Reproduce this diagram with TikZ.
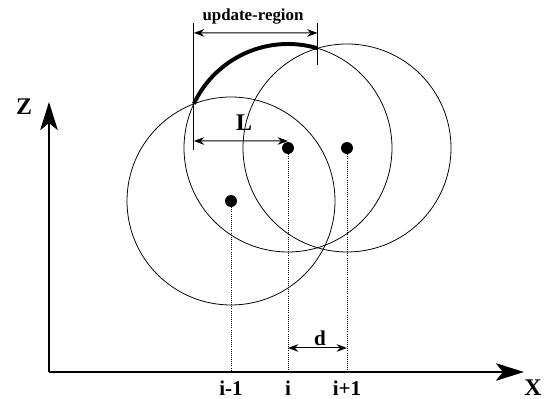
\documentclass[tikz,border=0pt]{standalone}
\usepackage{fontspec}
\setmainfont{Liberation Serif}
\usetikzlibrary{arrows.meta, calc}
\tikzset{
  ring/.style={line width=0.55pt, color=black},
  ctr/.style={circle, fill=black, inner sep=0pt, minimum size=8.5pt},
  axis/.style={-{Stealth[length=20pt, width=12.5pt, inset=5pt]}, line width=0.9pt},
  dim/.style={{Stealth[length=2.6mm, width=1.9mm]}-{Stealth[length=2.6mm, width=1.9mm]}, line width=0.7pt},
  drop/.style={densely dotted, line width=0.5pt},
  tick/.style={line width=0.6pt},
  lbl/.style={font=\bfseries\fontsize{15}{17}\selectfont, inner sep=0pt},
  biglbl/.style={font=\bfseries\fontsize{17}{19}\selectfont, inner sep=0pt},
}

\begin{document}
\begin{tikzpicture}[x=0.025cm, y=0.025cm]
  \useasboundingbox (0,0) rectangle (549,399);
  % axes
  \coordinate (org) at (49,27);
  \coordinate (ztip) at (49,297);
  \coordinate (xtip) at (524,27);
  \draw[axis] (org) -- (ztip);
  \draw[axis] (org) -- (xtip);
  \node[biglbl] (zlab) at (24,292) {Z};
  \node[biglbl] (xlab) at (533,11) {X};
  % centres and circles
  \node[ctr] (qa) at (231,198) {};
  \node[ctr] (qb) at (288,251) {};
  \node[ctr] (qc) at (347,251) {};
  \draw[ring] (qa.center) circle[radius=104];
  \draw[ring] (qb.center) circle[radius=104];
  \draw[ring] (qc.center) circle[radius=104];
  % drops to the x axis
  \coordinate (fa) at (231,27);
  \coordinate (fb) at (288,27);
  \coordinate (fc) at (347,27);
  \draw[drop] (qa) -- (fa);
  \draw[drop] (qb) -- (fb);
  \draw[drop] (qc) -- (fc);
  \node[lbl] (la) at (231,11) {i-1};
  \node[lbl] (lb) at (288,11) {i};
  \node[lbl] (lc) at (347,11) {i+1};
  % update region
  \coordinate (ua) at ($(qb.center)+(154.9:104)$);
  \coordinate (ub) at ($(qb.center)+(73.5:104)$);
  \draw[line width=2.8pt] (ua) arc[start angle=154.9, end angle=73.5, radius=104];
  \coordinate (uat) at ($(ua)+(0,81)$);
  \coordinate (uab) at ($(ua)+(0,-46)$);
  \coordinate (ubt) at ($(ub)+(0,25.3)$);
  \coordinate (ubb) at ($(ub)+(0,-16.7)$);
  \draw[tick] (uat) -- (uab);
  \draw[tick] (ubt) -- (ubb);
  \coordinate (ual) at ($(ua)+(0,71)$);
  \coordinate (ubl) at ($(ub)+(0,15.3)$);
  \draw[dim] (ual) -- (ubl);
  \node[font=\bfseries\fontsize{12}{14}\selectfont, inner sep=0pt] (ureg) at (253,382) {update-region};
  % L
  \coordinate (lla) at ($(ua)+(0,-37.1)$);
  \coordinate (llb) at (288,258);
  \draw[dim] (lla) -- (llb);
  \node[biglbl] (llab) at (244,276) {L};
  % d
  \coordinate (dda) at (288,51);
  \coordinate (ddb) at (347,51);
  \draw[dim] (dda) -- (ddb);
  \node[lbl] (dlab) at (320,61) {d};
\end{tikzpicture}
\end{document}
